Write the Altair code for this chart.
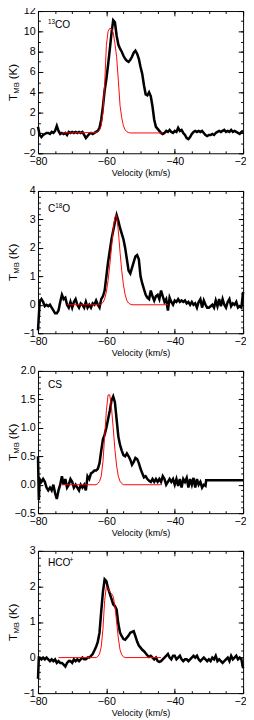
import altair as alt
import pandas as pd

# ---------------- data ----------------
VEL = [-80.0, -79.5, -79.0, -78.5, -78.0, -77.5, -77.0, -76.5, -76.0, -75.5,
       -75.0, -74.5, -74.0, -73.5, -73.0, -72.5, -72.0, -71.5, -71.0, -70.5,
       -70.0, -69.5, -69.0, -68.5, -68.0, -67.5, -67.0, -66.5, -66.0, -65.5,
       -65.0, -64.5, -64.0, -63.5, -63.0, -62.5, -62.0, -61.5, -61.0, -60.5,
       -60.0, -59.5, -59.0, -58.5, -58.0, -57.5, -57.0, -56.5, -56.0, -55.5,
       -55.0, -54.5, -54.0, -53.5, -53.0, -52.5, -52.0, -51.5, -51.0, -50.5,
       -50.0, -49.5, -49.0, -48.5, -48.0, -47.5, -47.0, -46.5, -46.0, -45.5,
       -45.0, -44.5, -44.0, -43.5, -43.0, -42.5, -42.0, -41.5, -41.0, -40.5,
       -40.0, -39.5, -39.0, -38.5, -38.0, -37.5, -37.0, -36.5, -36.0, -35.5,
       -35.0, -34.5, -34.0, -33.5, -33.0, -32.5, -32.0, -31.5, -31.0, -30.5,
       -30.0, -29.5, -29.0, -28.5, -28.0, -27.5, -27.0, -26.5, -26.0, -25.5,
       -25.0, -24.5, -24.0, -23.5, -23.0, -22.5, -22.0, -21.5, -21.0, -20.5,
       -20.0]

T_13CO = [0.6, -0.2, -0.4, -0.2, -0.1, 0.0, 0.0, -0.1, 0.1, 0.0,
          0.2, 0.7, 0.2, -0.1, 0.0, -0.1, 0.0, -0.2, 0.1, 0.0,
          0.1, 0.0, 0.1, 0.0, 0.1, 0.0, 0.1, -0.2, -0.5, -0.3,
          -0.1, 0.0, -0.1, 0.0, 0.1, 0.2, 0.5, 1.3, 2.6, 4.2,
          5.3, 6.7, 8.2, 9.8, 11.1, 10.9, 9.6, 8.7, 8.3, 8.0,
          7.6, 7.3, 7.1, 7.0, 7.2, 7.5, 7.9, 8.1, 7.8, 7.3,
          6.5, 5.8, 4.7, 3.8, 3.7, 4.0, 3.6, 2.6, 1.3, 0.6,
          0.4, 0.2, 0.0, -0.1, 0.0, 0.2, 0.1, 0.3, 0.1, 0.0,
          0.2, 0.1, 0.5, 0.2, 0.3, 0.0, -0.2, -0.5, -0.6, -0.4,
          -0.1, 0.1, 0.2, 0.1, 0.2, 0.1, 0.2, 0.0, -0.2, -0.3,
          -0.2, -0.2, -0.1, -0.2, 0.0, 0.1, 0.2, 0.1, 0.2, 0.3,
          0.1, 0.2, 0.1, 0.3, 0.1, 0.2, 0.1, 0.0, -0.1, 0.1,
          0.2]

FIT_V_13CO = [-73.0, -63.0, -62.5, -62.0, -61.5, -61.0, -60.5, -60.0, -59.5, -59.0,
              -58.5, -58.0, -57.5, -57.0, -56.5, -56.0, -55.5, -55.0, -54.5, -54.0,
              -53.5, -53.0, -43.5]
FIT_T_13CO = [0.0, 0.05, 0.12, 0.3, 0.7, 2.0, 4.8, 8.6, 10.0, 10.3,
              10.25, 9.9, 8.8, 7.5, 5.2, 2.7, 1.5, 0.7, 0.3, 0.12,
              0.04, 0.0, 0.0]

T_C18O = [-0.9, 0.1, 0.2, 0.1, -0.05, 0.0, -0.05, 0.0, -0.1, -0.2,
          -0.3, -0.3, -0.2, 0.1, 0.35, 0.2, 0.25, 0.0, -0.1, 0.1,
          -0.1, 0.1, 0.2, 0.0, -0.1, 0.05, 0.0, -0.1, 0.1, -0.1,
          0.0, -0.1, 0.05, 0.0, 0.15, 0.0, -0.1, 0.2, 0.3, 0.5,
          1.0, 1.5, 1.9, 2.3, 2.6, 2.9, 3.15, 2.95, 2.7, 2.5,
          2.3, 2.0, 1.6, 1.2, 1.1, 1.3, 1.5, 1.7, 1.75, 1.6,
          1.0, 0.75, 0.55, 0.35, 0.25, 0.2, 0.5, 0.3, 0.15, 0.3,
          0.35, 0.2, 0.5, 0.3, 0.1, 0.2, -0.2, 0.25, 0.1, 0.0,
          0.15, 0.1, 0.2, 0.1, 0.15, 0.1, 0.15, 0.05, 0.1, 0.0,
          0.1, 0.0, 0.05, -0.1, 0.1, 0.2, -0.1, 0.15, 0.0, -0.1,
          -0.1, -0.05, 0.0, -0.1, 0.15, -0.05, 0.2, -0.05, 0.2, 0.0,
          -0.1, 0.1, 0.2, -0.05, 0.05, 0.0, 0.1, -0.1, -0.05, -0.1,
          0.45]

FIT_V_C18O = [-71.5, -62.0, -61.5, -61.0, -60.5, -60.0, -59.5, -59.0, -58.5, -58.0,
              -57.5, -57.0, -56.5, -56.0, -55.5, -55.0, -54.5, -54.0, -53.5, -53.0,
              -52.5, -42.0]
FIT_T_C18O = [0.0, 0.0, 0.03, 0.08, 0.2, 0.45, 0.85, 1.4, 2.0, 2.65,
              3.1, 3.15, 2.6, 1.85, 1.2, 0.7, 0.35, 0.15, 0.06, 0.02,
              0.0, 0.0]

VEL_CS = [-80.0, -79.75, -79.5, -79.0, -78.5, -78.0, -77.5, -77.0, -76.5, -76.0, -75.5,
          -75.0, -74.5, -74.0, -73.5, -73.0, -72.5, -72.0, -71.5, -71.0, -70.5,
          -70.0, -69.5, -69.0, -68.5, -68.0, -67.5, -67.0, -66.5, -66.0, -65.5,
          -65.0, -64.5, -64.0, -63.5, -63.0, -62.5, -62.0, -61.5, -61.0, -60.5,
          -60.0, -59.5, -59.0, -58.5, -58.0, -57.5, -57.0, -56.5, -56.0, -55.5,
          -55.0, -54.5, -54.0, -53.5, -53.0, -52.5, -52.0, -51.5, -51.0, -50.5,
          -50.0, -49.5, -49.0, -48.5, -48.0, -47.5, -47.0, -46.5, -46.0, -45.5,
          -45.0, -44.5, -44.0, -43.5, -43.0, -42.5, -42.0, -41.5, -41.0, -40.5,
          -40.0, -39.5, -39.0, -38.5, -38.0, -37.5, -37.0, -36.5, -36.0, -35.5,
          -35.0, -34.5, -34.0, -33.5, -33.0, -32.5, -32.0, -31.5,
          -31.0, -30.8, -20.0]
T_CS = [0.5, -0.27, 0.1, 0.05, 0.1, 0.05, -0.05, -0.1, -0.05, -0.1, 0.0,
        -0.15, -0.25, -0.1, 0.0, 0.15, 0.0, 0.1, -0.05, 0.0, 0.1,
        0.05, -0.05, 0.0, -0.05, -0.1, 0.0, -0.05, 0.0, -0.1, 0.15,
        0.1, 0.2, 0.22, 0.25, 0.25, 0.28, 0.38, 0.6, 0.8, 0.88,
        1.0, 1.15, 1.3, 1.48, 1.55, 1.45, 1.15, 0.85, 0.7, 0.6,
        0.52, 0.5, 0.55, 0.5, 0.44, 0.35, 0.4, 0.47, 0.45, 0.38,
        0.28, 0.2, 0.13, 0.15, 0.1, 0.07, 0.05, 0.1, 0.05, 0.1,
        0.05, 0.1, 0.05, 0.15, 0.1, 0.0, 0.05, 0.1, 0.05, 0.1,
        0.0, 0.1, -0.02, 0.1, -0.05, 0.1, 0.05, 0.12, -0.05, 0.1,
        0.0, 0.12, -0.05, 0.1, 0.0, 0.05, -0.05, 0.0,
        -0.02, 0.08, 0.08]

FIT_V_CS = [-73.0, -63.0, -62.5, -62.0, -61.5, -61.0, -60.5, -60.0, -59.5, -59.0,
            -58.5, -58.0, -57.5, -57.0, -56.5, -56.0, -55.5, -55.0, -43.8]
FIT_T_CS = [0.0, 0.0, 0.02, 0.06, 0.15, 0.4, 0.85, 1.3, 1.58, 1.58,
            1.35, 1.0, 0.62, 0.33, 0.15, 0.06, 0.02, 0.0, 0.0]

VEL_HCO = [-80.0, -79.75] + VEL[1:]
T_HCO = [-0.6, 0.0, 0.0, -0.05, 0.0, -0.05, 0.0, -0.05, -0.1, -0.05, -0.1,
         -0.05, -0.15, -0.1, -0.15, -0.15, -0.2, -0.25, -0.15, -0.1, -0.1,
         -0.15, -0.05, -0.1, -0.05, -0.1, -0.05, 0.0, -0.05, -0.05, 0.0,
         0.0, 0.05, 0.1, 0.2, 0.3, 0.45, 0.7, 1.3, 1.85, 2.2,
         2.15, 1.95, 1.8, 1.65, 1.5, 1.45, 1.35, 0.95, 0.7, 0.6,
         0.52, 0.5, 0.56, 0.62, 0.7, 0.72, 0.74, 0.6, 0.45, 0.34,
         0.28, 0.22, 0.18, 0.12, 0.06, 0.02, 0.05, 0.0, -0.05, 0.0,
         -0.1, -0.12, -0.1, -0.05, 0.0, 0.05, 0.1, 0.0, -0.05, 0.05,
         0.05, -0.05, 0.0, 0.05, -0.05, -0.1, -0.05, -0.05, -0.1, -0.05,
         0.0, 0.05, 0.0, 0.05, -0.05, -0.1, -0.05, 0.0, -0.05, -0.1,
         -0.05, -0.1, 0.0, -0.05, 0.05, -0.1, -0.05, -0.1, -0.15, -0.1,
         -0.05, 0.0, -0.1, 0.05, -0.05, 0.0, 0.05, -0.05, 0.0, -0.05,
         -0.3]

FIT_V_HCO = [-74.0, -63.0, -62.5, -62.0, -61.5, -61.0, -60.5, -60.0, -59.5, -59.0,
             -58.5, -58.0, -57.5, -57.0, -56.5, -56.0, -55.5, -55.0, -54.5, -44.0]
FIT_T_HCO = [0.0, 0.0, 0.03, 0.1, 0.3, 0.8, 1.6, 2.0, 1.95, 1.85,
             1.8, 1.72, 1.45, 1.0, 0.55, 0.22, 0.08, 0.02, 0.0, 0.0]

X_MAJOR = [-80, -60, -40, -20]
X_MINOR = [-80, -75, -70, -65, -60, -55, -50, -45, -40, -35, -30, -25, -20]

Y_13CO_MAJOR = [-2, 0, 2, 4, 6, 8, 10, 12]
Y_13CO_MINOR = [-2, -1, 0, 1, 2, 3, 4, 5, 6, 7, 8, 9, 10, 11, 12]
Y_C18O_MAJOR = [-1, 0, 1, 2, 3, 4]
Y_C18O_MINOR = [-1, -0.8, -0.6, -0.4, -0.2, 0, 0.2, 0.4, 0.6, 0.8, 1, 1.2, 1.4, 1.6, 1.8,
                2, 2.2, 2.4, 2.6, 2.8, 3, 3.2, 3.4, 3.6, 3.8, 4]
Y_CS_MAJOR = [-0.5, 0.0, 0.5, 1.0, 1.5, 2.0]
Y_CS_MINOR = [-0.5, -0.4, -0.3, -0.2, -0.1, 0.0, 0.1, 0.2, 0.3, 0.4, 0.5, 0.6, 0.7, 0.8, 0.9,
              1.0, 1.1, 1.2, 1.3, 1.4, 1.5, 1.6, 1.7, 1.8, 1.9, 2.0]
Y_HCO_MAJOR = [-1, 0, 1, 2, 3]
Y_HCO_MINOR = [-1, -0.8, -0.6, -0.4, -0.2, 0, 0.2, 0.4, 0.6, 0.8, 1, 1.2, 1.4, 1.6, 1.8,
               2, 2.2, 2.4, 2.6, 2.8, 3]

W = 212
H = 147
FONT = "Liberation Sans"
TX = -21.5   # baseline of the rotated y title, relative to the plot's left edge


def txt(s, x, y, size, angle=0):
    return alt.Chart(pd.DataFrame({"s": [s]})).mark_text(
        align="left", baseline="alphabetic", font=FONT, fontSize=size,
        color="black", angle=angle
    ).encode(text="s:N", x=alt.value(x), y=alt.value(y))


def panel(vel, tb, fv, ft, ydom, ymaj, ymin, yfmt, pieces):
    sx = alt.Scale(domain=[-80, -20], nice=False, zero=False)
    sy = alt.Scale(domain=ydom, nice=False, zero=False)
    spec = pd.DataFrame({"v": vel, "t": tb})
    fit = pd.DataFrame({"v": fv, "t": ft})

    def tick_axis(orient, values, size):
        return alt.Axis(orient=orient, values=values, tickSize=size, offset=-size,
                        labels=False, domain=False, grid=False, title=None,
                        minExtent=0, maxExtent=0)

    black = alt.Chart(spec).mark_line(color="black", strokeWidth=2.6).encode(
        x=alt.X("v:Q", scale=sx, axis=alt.Axis(
            orient="bottom", values=X_MAJOR, tickSize=5, offset=-5, labelPadding=3,
            domain=False, grid=False, labelFlush=False, format="d", minExtent=0,
            title="Velocity (km/s)")),
        y=alt.Y("t:Q", scale=sy, axis=alt.Axis(
            orient="left", values=ymaj, tickSize=5, offset=-5, labelPadding=3,
            domain=False, grid=False, labelFlush=False, format=yfmt, title=None,
            minExtent=0)),
    )
    red = alt.Chart(fit).mark_line(color="#ff0000", strokeWidth=1).encode(
        x=alt.X("v:Q", scale=sx, axis=tick_axis("bottom", X_MINOR, 2.5)),
        y=alt.Y("t:Q", scale=sy, axis=tick_axis("left", ymin, 2.5)),
    )
    top_major = alt.Chart(fit).mark_line(opacity=0).encode(
        x=alt.X("v:Q", scale=sx, axis=tick_axis("top", X_MAJOR, 5)),
        y=alt.Y("t:Q", scale=sy, axis=tick_axis("right", ymaj, 5)),
    )
    top_minor = alt.Chart(fit).mark_line(opacity=0).encode(
        x=alt.X("v:Q", scale=sx, axis=tick_axis("top", X_MINOR, 2.5)),
        y=alt.Y("t:Q", scale=sy, axis=tick_axis("right", ymin, 2.5)),
    )
    layers = [black, red, top_major, top_minor]
    for s, x, y, size in pieces:
        layers.append(txt(s, x, y, size))
    # y axis title: T_MB (K)
    layers.append(txt("T", TX, H / 2 + 19.5, 12, 270))
    layers.append(txt("MB", TX + 2, H / 2 + 12, 8, 270))
    layers.append(txt("(K)", TX, H / 2 - 3, 12, 270))
    return alt.layer(*layers).resolve_axis(x="independent", y="independent").properties(
        width=W, height=H)


p1 = panel(VEL, T_13CO, FIT_V_13CO, FIT_T_13CO, [-2, 12], Y_13CO_MAJOR, Y_13CO_MINOR, "d",
           [("13", 10.3, 13.3, 6.5), ("CO", 17.6, 17.7, 10.5)])
p2 = panel(VEL, T_C18O, FIT_V_C18O, FIT_T_C18O, [-1, 4], Y_C18O_MAJOR, Y_C18O_MINOR, "d",
           [("C", 10.3, 21.7, 10.5), ("18", 17.9, 17.7, 6.5), ("O", 25.2, 21.7, 10.5)])
p3 = panel(VEL_CS, T_CS, FIT_V_CS, FIT_T_CS, [-0.5, 2.0], Y_CS_MAJOR, Y_CS_MINOR, ".1f",
           [("CS", 10.3, 17.7, 10.5)])
p4 = panel(VEL_HCO, T_HCO, FIT_V_HCO, FIT_T_HCO, [-1, 3], Y_HCO_MAJOR, Y_HCO_MINOR, "d",
           [("HCO", 10.3, 15.7, 10.5), ("+", 32.6, 11.7, 7)])

chart = alt.vconcat(p1, p2, p3, p4, spacing=5).properties(
    padding={"left": -1, "top": -16, "right": -7, "bottom": 0}
).configure_view(
    stroke="black", strokeWidth=1
).configure_axis(
    labelFont=FONT, labelFontSize=11, labelColor="black",
    tickColor="black", tickWidth=1,
    titleFont=FONT, titleFontSize=9.3, titleFontWeight="normal", titleColor="black",
    titlePadding=2.5,
)

chart.save("out.html", embed_options={"renderer": "svg", "actions": False})
